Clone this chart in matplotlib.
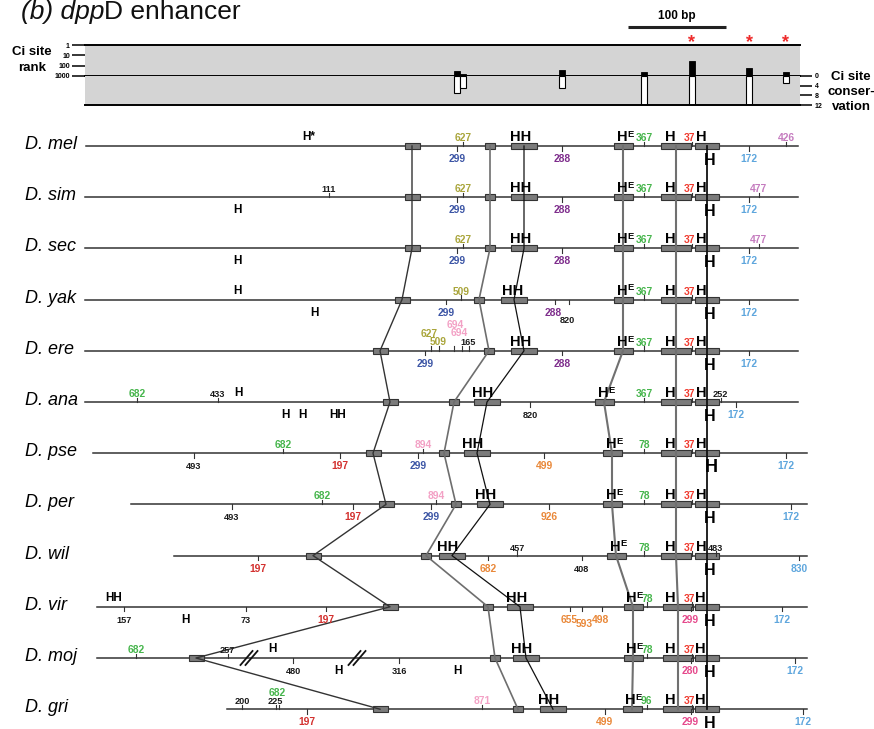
import numpy as np
import matplotlib
matplotlib.use("Agg")
import matplotlib.pyplot as plt
from matplotlib.patches import Rectangle
from matplotlib.ticker import NullLocator

plt.rcParams["font.family"] = "Liberation Sans"

W, H = 874, 729

# ==========================================
# Ci site summary (positions along D. mel)
# ==========================================

ci_pos = [457, 463, 562, 644, 692, 749, 786]
ci_rank = [299, 627, 288, 367, 37, 172, 426]
ci_conservation = [7, 5, 5, 12, 12, 12, 3]
ci_starred = [692, 749, 786]

# ==========================================
# Species and conserved blocks
# ==========================================

species = ["D. mel", "D. sim", "D. sec", "D. yak", "D. ere", "D. ana",
           "D. pse", "D. per", "D. wil", "D. vir", "D. moj", "D. gri"]
seq_start = [86, 85, 85, 85, 85, 85, 93, 131, 174, 97, 97, 227]
seq_end = [798, 798, 798, 798, 798, 798, 807, 807, 807, 807, 807, 807]

block_a = [412, 412, 412, 402, 380, 390, 373, 386, 313, 390, 196, 380]
block_b = [490, 490, 490, 479, 489, 454, 444, 456, 426, 488, 495, 518]
block_c = [524, 524, 524, 514, 524, 487, 477, 490, 452, 520, 526, 553]
block_d = [623, 623, 623, 623, 623, 604, 612, 612, 616, 633, 633, 632]
block_e = [676, 676, 676, 676, 676, 676, 676, 676, 676, 678, 678, 678]
block_f = [707, 707, 707, 707, 707, 707, 707, 707, 707, 707, 707, 707]
blocks = [block_a, block_b, block_c, block_d, block_e, block_f]
block_width = [15, 10, 26, 19, 30, 24]
link_colour = ["#333333", "#6e6e6e", "#111111", "#707070", "#707070", "#111111"]
link_width = [1.0, 1.2, 0.9, 1.5, 1.5, 1.3]

# sequence breaks in D. moj
moj_breaks = [249, 357]

COL = {
    "k": "#1a1a1a", "olive": "#a9a53b", "blue": "#3c55a5", "purple": "#7e2d8c",
    "green": "#46b54c", "red": "#f03a2e", "crimson": "#d3312f", "sky": "#5ea6dd",
    "mauve": "#c57cbf", "pink": "#f3a1c5", "orange": "#e98839", "rose": "#e5488b",
}

# ==========================================
# Ci sites: (pos, rank label, colour, side, label x, label shift)
# ==========================================

mel_sites = [(457, "299", "blue", "dn"), (463, "627", "olive", "up"),
             (562, "288", "purple", "dn"), (644, "367", "green", "up"),
             (692, "37", "red", "up", 689), (749, "172", "sky", "dn"),
             (786, "426", "mauve", "up")]
sim_sites = [(329, "111", "k", "up"), (457, "299", "blue", "dn"),
             (463, "627", "olive", "up"), (562, "288", "purple", "dn"),
             (644, "367", "green", "up"), (692, "37", "red", "up", 689),
             (749, "172", "sky", "dn"), (759, "477", "mauve", "up")]
sec_sites = [(457, "299", "blue", "dn"), (463, "627", "olive", "up"),
             (562, "288", "purple", "dn"), (644, "367", "green", "up"),
             (692, "37", "red", "up", 689), (749, "172", "sky", "dn"),
             (759, "477", "mauve", "up")]
yak_sites = [(446, "299", "blue", "dn"), (461, "509", "olive", "up"),
             (555, "288", "purple", "dn", 553), (569, "820", "k", "dn", 567, 7),
             (644, "367", "green", "up"), (692, "37", "red", "up", 689),
             (749, "172", "sky", "dn")]
ere_sites = [(425, "299", "blue", "dn"), (431, "627", "olive", "up", 429, -9),
             (439, "509", "olive", "up", 438, -1), (454, "694", "pink", "up", 455, -18),
             (462, "694", "pink", "up", 459, -10), (469, "165", "k", "up", 468, -1),
             (562, "288", "purple", "dn"), (644, "367", "green", "up"),
             (692, "37", "red", "up", 689), (749, "172", "sky", "dn")]
ana_sites = [(137, "682", "green", "up"), (218, "433", "k", "up"),
             (530, "820", "k", "dn"), (644, "367", "green", "up"),
             (692, "37", "red", "up", 689), (721, "252", "k", "up", 720),
             (736, "172", "sky", "dn")]
pse_sites = [(194, "493", "k", "dn"), (283, "682", "green", "up"),
             (340, "197", "crimson", "dn"), (418, "299", "blue", "dn"),
             (423, "894", "pink", "up"), (544, "499", "orange", "dn"),
             (644, "78", "green", "up"), (692, "37", "red", "up", 689),
             (786, "172", "sky", "dn")]
per_sites = [(232, "493", "k", "dn"), (322, "682", "green", "up"),
             (353, "197", "crimson", "dn"), (431, "299", "blue", "dn"),
             (436, "894", "pink", "up"), (549, "926", "orange", "dn"),
             (644, "78", "green", "up"), (692, "37", "red", "up", 689),
             (791, "172", "sky", "dn")]
wil_sites = [(258, "197", "crimson", "dn"), (488, "682", "orange", "dn"),
             (517, "457", "k", "up"), (582, "408", "k", "dn"),
             (644, "78", "green", "up"), (692, "37", "red", "up", 689),
             (716, "483", "k", "up", 715), (799, "830", "sky", "dn")]
vir_sites = [(124, "157", "k", "dn"), (246, "73", "k", "dn"),
             (326, "197", "crimson", "dn"), (570, "655", "orange", "dn", 569),
             (582, "593", "orange", "dn", 584, 4), (602, "498", "orange", "dn", 601),
             (647, "78", "green", "up"), (692, "37", "red", "up", 689),
             (691, "299", "rose", "dn", 690), (782, "172", "sky", "dn")]
moj_sites = [(136, "682", "green", "up"), (228, "257", "k", "up", 227),
             (293, "480", "k", "dn"), (399, "316", "k", "dn"),
             (647, "78", "green", "up"), (692, "37", "red", "up", 689),
             (691, "280", "rose", "dn", 690), (795, "172", "sky", "dn")]
gri_sites = [(242, "200", "k", "up"), (276, "225", "k", "up", 275),
             (279, "682", "green", "up", 277, -8), (307, "197", "crimson", "dn"),
             (482, "871", "pink", "up"), (605, "499", "orange", "dn"),
             (647, "96", "green", "up", 646), (692, "37", "red", "up", 689),
             (691, "299", "rose", "dn", 690), (803, "172", "sky", "dn")]
sites = [mel_sites, sim_sites, sec_sites, yak_sites, ere_sites, ana_sites,
         pse_sites, per_sites, wil_sites, vir_sites, moj_sites, gri_sites]

# ==========================================
# Homeodomain sites: (pos, text, size, side)
# ==========================================

mel_h = [(309, "H*", "S", "up"), (521, "HH", "L", "up"), (622, "HE", "L", "up"),
         (670, "H", "L", "up"), (701, "H", "L", "up"), (710, "H", "L", "dn")]
sim_h = [(237, "H", "S", "dn"), (521, "HH", "L", "up"), (622, "HE", "L", "up"),
         (670, "H", "L", "up"), (701, "H", "L", "up"), (710, "H", "L", "dn")]
sec_h = [(237, "H", "S", "dn"), (521, "HH", "L", "up"), (622, "HE", "L", "up"),
         (670, "H", "L", "up"), (701, "H", "L", "up"), (710, "H", "L", "dn")]
yak_h = [(237, "H", "S", "up"), (314, "H", "S", "dn"), (513, "HH", "L", "up"),
         (622, "HE", "L", "up"), (670, "H", "L", "up"), (701, "H", "L", "up"),
         (710, "H", "L", "dn")]
ere_h = [(521, "HH", "L", "up"), (622, "HE", "L", "up"), (670, "H", "L", "up"),
         (701, "H", "L", "up"), (710, "H", "L", "dn")]
ana_h = [(238, "H", "S", "up"), (285, "H", "S", "dn"), (302, "H", "S", "dn"),
         (338, "HH", "S", "dn"), (483, "HH", "L", "up"), (603, "HE", "L", "up"),
         (670, "H", "L", "up"), (701, "H", "L", "up"), (710, "H", "L", "dn")]
pse_h = [(473, "HH", "L", "up"), (611, "HE", "L", "up"), (670, "H", "L", "up"),
         (701, "H", "L", "up"), (711, "H", "XL", "dn")]
per_h = [(486, "HH", "L", "up"), (611, "HE", "L", "up"), (670, "H", "L", "up"),
         (701, "H", "L", "up"), (710, "H", "L", "dn")]
wil_h = [(448, "HH", "L", "up"), (615, "HE", "L", "up"), (670, "H", "L", "up"),
         (701, "H", "L", "up"), (710, "H", "L", "dn")]
vir_h = [(114, "HH", "S", "up"), (185, "H", "S", "dn"), (517, "HH", "L", "up"),
         (631, "HE", "L", "up"), (670, "H", "L", "up"), (700, "H", "L", "up"),
         (710, "H", "L", "dn")]
moj_h = [(272, "H", "S", "up"), (338, "H", "S", "dn"), (457, "H", "S", "dn"),
         (522, "HH", "L", "up"), (631, "HE", "L", "up"), (670, "H", "L", "up"),
         (700, "H", "L", "up"), (710, "H", "L", "dn")]
gri_h = [(549, "HH", "L", "up"), (630, "HE", "L", "up"), (670, "H", "L", "up"),
         (700, "H", "L", "up"), (710, "H", "L", "dn")]
hox = [mel_h, sim_h, sec_h, yak_h, ere_h, ana_h,
       pse_h, per_h, wil_h, vir_h, moj_h, gri_h]

row_y = 146 + 51.2 * np.arange(len(species))

# ==========================================
# Figure
# ==========================================

fig = plt.figure(figsize=(W / 100, H / 100), dpi=100)
ax = fig.add_axes([0, 0, 1, 1])
ax.set_xlim(0, W)
ax.set_ylim(H, 0)
ax.axis("off")

# title: italic part first, then the rest placed right after it
t1 = ax.text(21, 19, "(b) dpp", fontsize=19, style="italic",
             ha="left", va="baseline", color="#111111")
fig.canvas.draw()
x_end = ax.transData.inverted().transform(
    (t1.get_window_extent().x1, 0))[0]
ax.text(x_end, 19, "D enhancer", fontsize=19, ha="left", va="baseline",
        color="#111111")

# scale bar
ax.plot([628, 726], [27, 27], color="#222222", lw=2.2, solid_capstyle="butt")
ax.text(677, 19, "100 bp", fontsize=8.5, fontweight="bold", ha="center", va="baseline")

# ---- rank panel ----
ax_rank = fig.add_axes([85 / W, 1 - 76 / H, 715 / W, 31 / H])
ax_rank.set_facecolor("#d4d4d4")
ax_rank.set_yscale("log")
ax_rank.set_ylim(1000, 1)
ax_rank.set_xlim(85, 800)
ax_rank.bar(ci_pos, [1000 - r for r in ci_rank], bottom=ci_rank, width=6,
            color="black", edgecolor="black", linewidth=0.6)
ax_rank.yaxis.set_minor_locator(NullLocator())
ax_rank.set_yticks([1, 10, 100, 1000])
ax_rank.set_yticklabels(["1", "10", "100", "1000"])
ax_rank.tick_params(axis="y", length=9.4, width=1.1, labelsize=5, pad=1.5)
ax_rank.set_xticks([])
for t in ax_rank.get_yticklabels():
    t.set_fontweight("bold")
for side in ["left", "right"]:
    ax_rank.spines[side].set_visible(False)
for side in ["top", "bottom"]:
    ax_rank.spines[side].set_linewidth(1.4)

# ---- conservation panel ----
ax_cons = fig.add_axes([85 / W, 1 - 105 / H, 715 / W, 29 / H])
ax_cons.set_facecolor("#d4d4d4")
ax_cons.set_ylim(12, 0)
ax_cons.set_xlim(85, 800)
ax_cons.bar(ci_pos, ci_conservation, bottom=0, width=6,
            color="white", edgecolor="black", linewidth=0.8)
ax_cons.yaxis.tick_right()
ax_cons.set_yticks([0, 4, 8, 12])
ax_cons.set_yticklabels(["0", "4", "8", "12"])
ax_cons.tick_params(axis="y", length=8.6, width=1.1, labelsize=5, pad=2)
ax_cons.set_xticks([])
for t in ax_cons.get_yticklabels():
    t.set_fontweight("bold")
for side in ["left", "right", "top"]:
    ax_cons.spines[side].set_visible(False)
ax_cons.spines["bottom"].set_linewidth(1.4)

for x in ci_starred:
    ax.text(x, 47, "*", color="#ee2a2a", fontsize=13, fontweight="bold",
            ha="center", va="baseline")

ax.text(32, 52, "Ci site", fontsize=9.5, fontweight="bold", ha="center", va="center")
ax.text(32, 68, "rank", fontsize=9.5, fontweight="bold", ha="center", va="center")
for yy, txt in zip([77, 92, 107], ["Ci site", "conser-", "vation"]):
    ax.text(851, yy, txt, fontsize=9.5, fontweight="bold", ha="center", va="center")

# ---- species rows ----
for i, name in enumerate(species):
    y = row_y[i]
    ax.text(25, y + 3, name, fontsize=13, style="italic", ha="left", va="baseline")
    ax.plot([seq_start[i], seq_end[i]], [y, y], color="#333333", lw=1.1, zorder=1)

for col, w in zip(blocks, block_width):
    for i in range(len(species)):
        ax.add_patch(Rectangle((col[i] - w / 2, row_y[i] - 3), w, 6,
                               facecolor="#7b7b7b", edgecolor="#333333",
                               lw=0.8, zorder=2))

for col, c, lw in zip(blocks, link_colour, link_width):
    ax.plot(col, row_y, color=c, lw=lw, zorder=3)

y_moj = row_y[species.index("D. moj")]
for bx in moj_breaks:
    for off in (-2.5, 2.5):
        ax.plot([bx + off - 6, bx + off + 6], [y_moj + 7, y_moj - 7],
                color="#111111", lw=1.3, zorder=3)

for i, row in enumerate(sites):
    y = row_y[i]
    for s in row:
        pos, label, colour, side = s[:4]
        lx = s[4] if len(s) > 4 else pos
        shift = s[5] if len(s) > 5 else 0
        sgn = -1 if side == "up" else 1
        ax.plot([pos, pos], [y, y + sgn * 4.5], color="#333333", lw=0.8, zorder=2)
        base = y - 5 if side == "up" else y + 16
        fs = 6.6 if colour == "k" else 7.4
        ax.text(lx, base + shift, label, color=COL[colour], fontsize=fs,
                fontweight="bold", ha="center", va="baseline", zorder=5)

size_pt = {"S": 8.5, "L": 10.5, "XL": 13}
for i, row in enumerate(hox):
    y = row_y[i]
    for pos, txt, size, side in row:
        fs = size_pt[size]
        if side == "up":
            base = y - 5 if size != "S" else y - 6
        else:
            base = y + 16 if size == "S" else y + 19
            if size == "L":
                fs = 11.5
        if txt == "HE":
            ax.text(pos, base, "H", fontsize=fs, fontweight="bold",
                    ha="center", va="baseline", zorder=5)
            ax.text(pos + 5.5, base - 4.3, "E", fontsize=6.8, fontweight="bold",
                    ha="left", va="baseline", zorder=5)
        else:
            ax.text(pos, base, txt, fontsize=fs, fontweight="bold",
                    ha="center", va="baseline", zorder=5)

fig.savefig("out.png", dpi=100)
